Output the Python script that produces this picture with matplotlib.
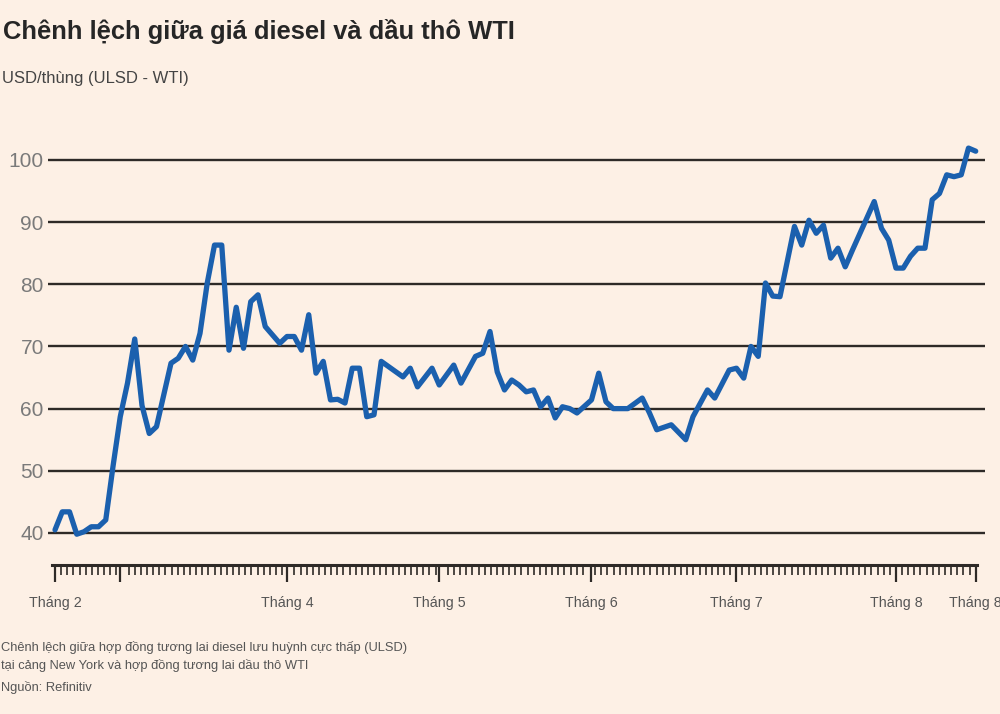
import matplotlib
matplotlib.use("Agg")
import matplotlib.pyplot as plt
import numpy as np
from matplotlib.ticker import FixedLocator

plt.rcParams['font.family'] = ['Liberation Sans', 'DejaVu Sans']

# ---- data (trading-day index, USD/barrel spread ULSD - WTI) ----
days = [0, 1, 2, 3, 4, 5, 6, 7, 8, 9, 10, 11, 12, 13, 14, 16, 17, 18, 19, 20,
        21, 22, 23, 24, 25, 26, 27, 28, 29, 31, 32, 33, 34, 35, 36, 37, 38, 39,
        40, 41, 42, 43, 44, 45, 48, 49, 50, 52, 53, 55, 56, 58, 59, 60, 61, 62,
        63, 64, 65, 66, 67, 68, 69, 70, 71, 72, 74, 75, 76, 77, 79, 81, 82, 83,
        85, 87, 88, 90, 91, 93, 94, 95, 96, 97, 98, 99, 100, 102, 103, 104, 105,
        106, 107, 108, 109, 110, 113, 114, 115, 116, 117, 118, 119, 120, 121,
        122, 123, 124, 125, 126, 127]
spread = [40.5, 43.4, 43.4, 39.8, 40.2, 41.0, 41.0, 42.1, 50.7, 58.7, 64.1,
          71.2, 60.5, 56.0, 57.1, 67.3, 68.1, 70.0, 67.8, 72.1,
          80.2, 86.3, 86.3, 69.4, 76.3, 69.7, 77.2, 78.3, 73.2, 70.5, 71.6,
          71.6, 69.4, 75.1, 65.7, 67.6, 61.4, 61.5,
          60.9, 66.5, 66.5, 58.7, 59.0, 67.6, 65.1, 66.5, 63.5, 66.5, 63.8,
          67.0, 64.1, 68.4, 68.9, 72.4, 65.9, 63.0,
          64.6, 63.8, 62.7, 63.0, 60.3, 61.7, 58.5, 60.3, 60.0, 59.3, 61.4,
          65.7, 61.1, 60.0, 60.0, 61.7, 59.3, 56.6,
          57.4, 55.0, 58.7, 63.0, 61.7, 66.2, 66.5, 64.9, 70.0, 68.4, 80.2,
          78.1, 78.0, 89.3, 86.3, 90.3, 88.2,
          89.5, 84.2, 85.8, 82.8, 85.5, 93.3, 89.0, 87.1, 82.6, 82.6, 84.5,
          85.8, 85.8, 93.6,
          94.6, 97.6, 97.3, 97.6, 101.9, 101.4]

month_days = [0, 9, 32, 53, 74, 94, 116, 127]
month_labels = ['Tháng 2', '', 'Tháng 4', 'Tháng 5', 'Tháng 6', 'Tháng 7',
                'Tháng 8', 'Tháng 8']
y_ticks = [40, 50, 60, 70, 80, 90, 100]

title = 'Chênh lệch giữa giá diesel và dầu thô WTI'
subtitle = 'USD/thùng (ULSD - WTI)'
notes = ['Chênh lệch giữa hợp đồng tương lai diesel lưu huỳnh cực thấp (ULSD)',
         'tại cảng New York và hợp đồng tương lai dầu thô WTI',
         'Nguồn: Refinitiv']

# ---- figure ----
BG = '#FDF0E5'
INK = '#2e2a27'
W, H = 1000, 714
fig = plt.figure(figsize=(W / 100, H / 100), dpi=100, facecolor=BG)

left_px, right_px, top_px, bottom_px = 48, 985, 140, 565
ax = fig.add_axes([left_px / W, 1 - bottom_px / H,
                   (right_px - left_px) / W, (bottom_px - top_px) / H])
ax.set_facecolor(BG)

ax.set_xlim(-0.966, 128.28)
ax.set_ylim(34.85, 103.2)

ax.set_yticks(y_ticks)
ax.set_yticklabels([str(v) for v in y_ticks])
ax.grid(axis='y', color=INK, linewidth=1.7)
ax.set_axisbelow(True)
ax.tick_params(axis='y', length=0, pad=3, labelsize=15, labelcolor='#7a7a7a')

# dense minor ticks along the axis, skipping those right next to month ticks
minor = np.linspace(0, 127, 151)
minor = [m for m in minor if min(abs(m - d) for d in month_days) > 0.4]
ax.xaxis.set_major_locator(FixedLocator(month_days))
ax.set_xticklabels(month_labels)
ax.xaxis.set_minor_locator(FixedLocator(minor))
ax.tick_params(axis='x', which='major', length=12, width=1.6, color=INK,
               labelsize=10.3, labelcolor='#555555', pad=10)
ax.tick_params(axis='x', which='minor', length=7.5, width=1.2, color=INK)

for s in ['left', 'right', 'top']:
    ax.spines[s].set_visible(False)
ax.spines['bottom'].set_color(INK)
ax.spines['bottom'].set_linewidth(2.2)
ax.spines['bottom'].set_bounds(-0.4, 127.2)

ax.plot(days, spread, color='#1b60ae', linewidth=3.8, solid_joinstyle='round',
        solid_capstyle='round', clip_on=False, zorder=3)

# ---- texts ----
fig.text(3 / W, 1 - 32 / H, title, fontsize=18.4, fontweight='bold',
         color='#262626', va='center', ha='left')
fig.text(2 / W, 1 - 79 / H, subtitle, fontsize=12, color='#444444',
         va='center', ha='left')
for yp, t in zip([647, 665, 687], notes):
    fig.text(1 / W, 1 - yp / H, t, fontsize=9.25, color='#555555',
             va='center', ha='left')

fig.savefig('out.png', dpi=100, facecolor=BG)
